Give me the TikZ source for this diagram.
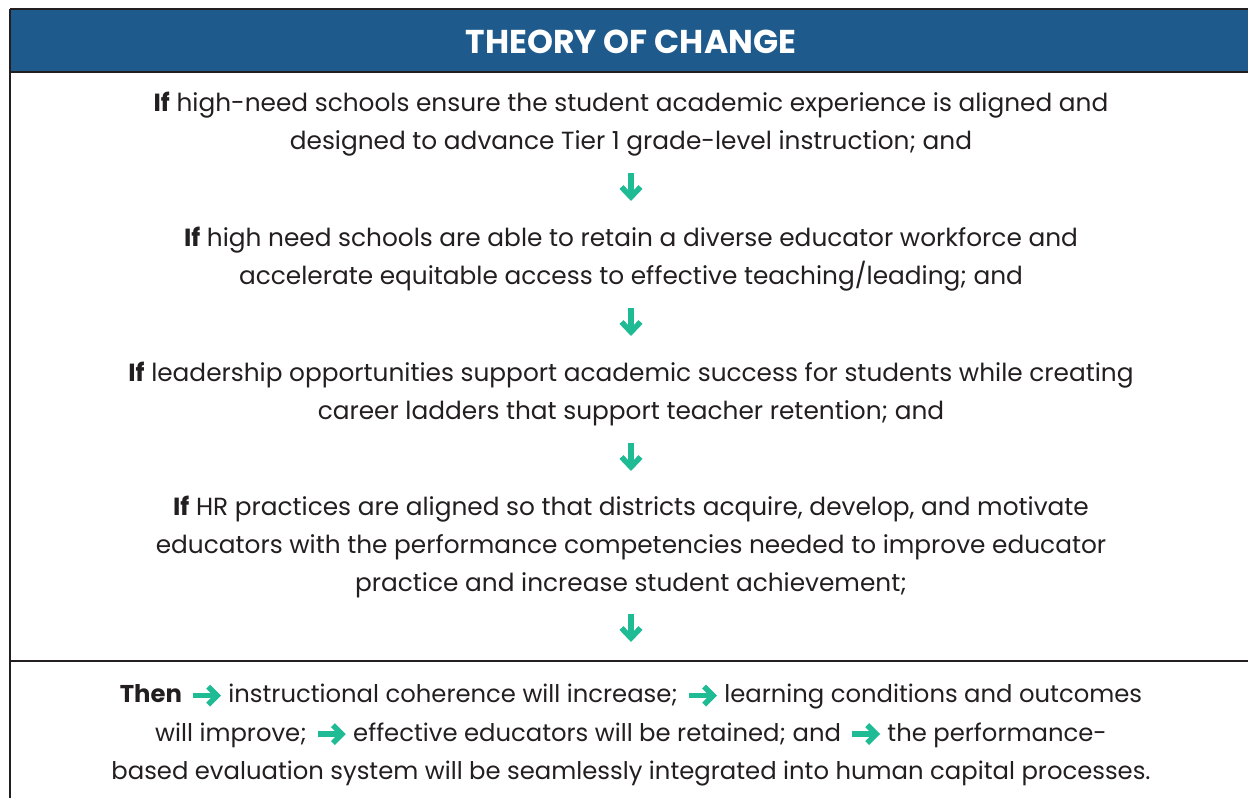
\documentclass[tikz,border=0pt]{standalone}
\usepackage{fontspec}
\setmainfont{Poppins}
\definecolor{hdrblue}{HTML}{1F5A8C}
\definecolor{edge}{HTML}{231F20}
\definecolor{arrgreen}{HTML}{1FBB94}
\definecolor{txt}{HTML}{231F20}
\newcommand{\rarr}{\hspace{2pt}\tikz[baseline={(0,-7pt)},x=1pt,y=-1pt]{\draw[arrgreen,line width=5.5pt] (0,0) -- (23,0); \draw[arrgreen,line width=5.5pt,miter limit=10] (15,-9) -- (24,0) -- (15,9);}\hspace{2pt}}
\tikzset{
  para/.style={align=center,font=\fontsize{24.8}{38}\selectfont,text=txt,inner sep=0pt},
  downarr/.style={arrgreen,line width=5.5pt},
}
\begin{document}
\begin{tikzpicture}[x=1pt,y=-1pt]
\useasboundingbox (0,0) rectangle (1248,798);
\clip (0,0) rectangle (1248,798);
\fill[white] (0,0) rectangle (1248,798);
\fill[hdrblue] (10,9) rectangle (1262,72);
\draw[edge,line width=2.5pt] (10,9) -- (1262,9);
\draw[edge,line width=2.5pt] (10,72) -- (1262,72);
\draw[edge,line width=2.5pt] (10,661) -- (1262,661);
\draw[edge,line width=2.5pt] (10,9) -- (10,810);
\node[font=\bfseries\fontsize{33}{36}\selectfont,text=white,inner sep=0pt] (title) at (631,42) {THEORY OF CHANGE};
\node[para] (p1) at (631,124) {\textbf{If} high-need schools ensure the student academic experience is aligned and\\designed to advance Tier 1 grade-level instruction; and};
\node[para] (p2) at (631,259) {\textbf{If} high need schools are able to retain a diverse educator workforce and\\accelerate equitable access to effective teaching/leading; and};
\node[para] (p3) at (631,394) {\textbf{If} leadership opportunities support academic success for students while creating\\career ladders that support teacher retention; and};
\node[para] (p4) at (631,547) {\textbf{If} HR practices are aligned so that districts acquire, develop, and motivate\\educators with the performance competencies needed to improve educator\\practice and increase student achievement;};
\node[para,font=\fontsize{24.3}{38.5}\selectfont] (p5) at (631,735) {\textbf{Then} \rarr{} instructional coherence will increase; \rarr{} learning conditions and outcomes\\will improve; \rarr{} effective educators will be retained; and \rarr{} the performance-\\based evaluation system will be seamlessly integrated into human capital processes.};
\foreach \y in {173,308,443,614}{
  \draw[downarr] (631,\y) -- (631,\y+22);
  \draw[downarr,miter limit=10] (621.5,\y+14) -- (631,\y+24) -- (640.5,\y+14);
}
\end{tikzpicture}
\end{document}
